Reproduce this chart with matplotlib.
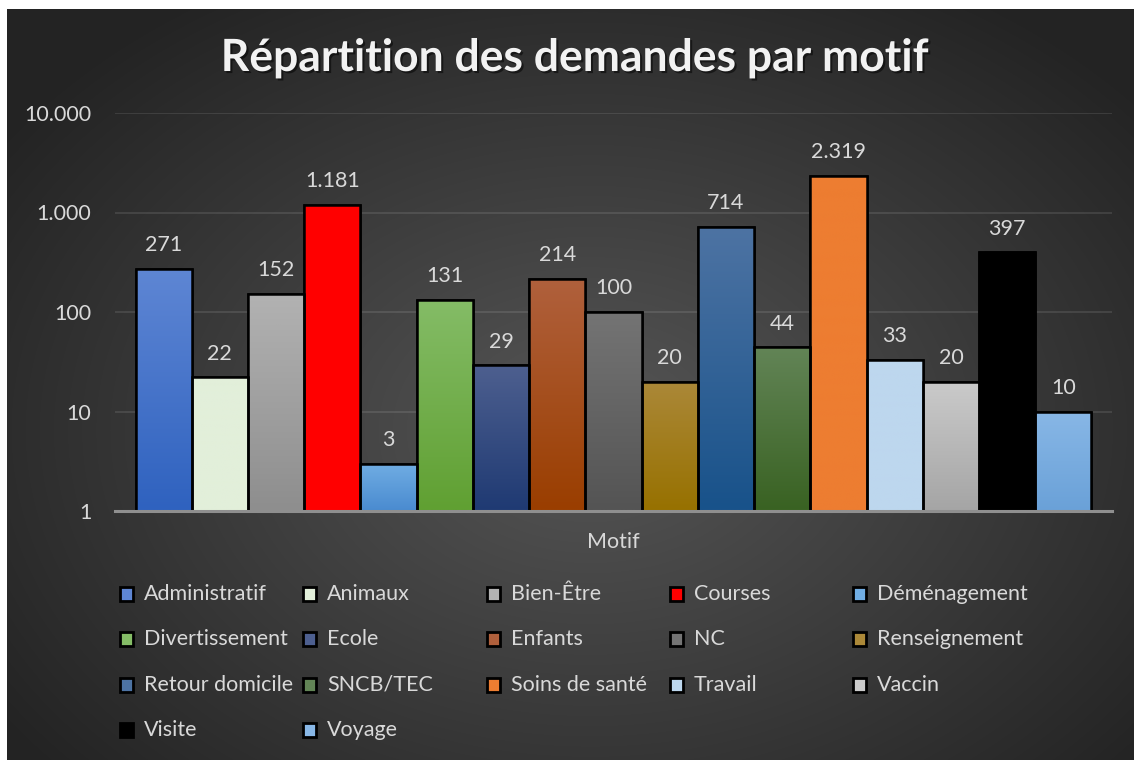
import matplotlib
matplotlib.use("Agg")
import matplotlib.pyplot as plt
import matplotlib.patheffects as pe
from matplotlib.colors import to_rgb
from matplotlib.patches import Rectangle
import numpy as np

# data
motifs = ["Administratif", "Animaux", "Bien-Être", "Courses", "Déménagement",
          "Divertissement", "Ecole", "Enfants", "NC", "Renseignement",
          "Retour domicile", "SNCB/TEC", "Soins de santé", "Travail", "Vaccin",
          "Visite", "Voyage"]
demandes = [271, 22, 152, 1181, 3, 131, 29, 214, 100, 20, 714, 44, 2319, 33, 20, 397, 10]
y_ticks = [1, 10, 100, 1000, 10000]

# gradient fills, top -> bottom
top_colors = ["#5e86d4", "#e2efda", "#b2b2b2", "#ff0000", "#70ade3",
              "#84bc66", "#4d5f8f", "#b0603c", "#747474", "#ab8838",
              "#4d73a3", "#628456", "#ed7d31", "#bdd7ee", "#cacaca",
              "#000000", "#88b7e6"]
bottom_colors = ["#2f62bf", "#e2efda", "#8e8e8e", "#ff0000", "#4a8bd0",
                 "#60a032", "#1f3a73", "#9a3e00", "#545454", "#977100",
                 "#18528a", "#396222", "#ed7d31", "#bdd7ee", "#a5a5a5",
                 "#000000", "#6aa1d8"]

TXT = "#d9d9d9"
FS = 15.5
plt.rcParams["font.family"] = ["Lato", "DejaVu Sans"]

W, H = 1134, 760
fig = plt.figure(figsize=(W / 100, H / 100), dpi=100, facecolor="white")


def px(x0, y0, x1, y1):
    """pixel box (top-left origin) -> figure fraction rect"""
    return [x0 / W, 1 - y1 / H, (x1 - x0) / W, (y1 - y0) / H]


# radial grey background of the chart area
bg = fig.add_axes(px(7, 9, W, H), zorder=-10)
gx, gy = np.meshgrid(np.arange(7, W), np.arange(9, H))
r = np.sqrt(((gx - 590) / 720.0) ** 2 + ((gy - 430) / 520.0) ** 2)
r = np.clip(r, 0, 1)
c_in, c_out = np.array(to_rgb("#565656")), np.array(to_rgb("#232323"))
img = c_in[None, None, :] * (1 - r[..., None]) + c_out[None, None, :] * r[..., None]
bg.imshow(img, aspect="auto", interpolation="bilinear")
bg.axis("off")

ax = fig.add_axes(px(115, 113, 1112, 511))
ax.patch.set_alpha(0)
ax.set_yscale("log")
ax.set_ylim(1, 10000)
n = len(demandes)
pad = 0.365
ax.set_xlim(-0.5 - pad, n - 0.5 + pad)

x = np.arange(n)
bars = ax.bar(x, demandes, width=1.0, color=bottom_colors, edgecolor="black",
              linewidth=1.8, zorder=3)

# per-bar vertical gradient, clipped to the bar
x0, x1 = ax.get_xlim()
for i, (b, v) in enumerate(zip(bars, demandes)):
    top = np.log10(v) / 4.0
    left = (i - 0.5 - x0) / (x1 - x0)
    right = (i + 0.5 - x0) / (x1 - x0)
    ct, cb = np.array(to_rgb(top_colors[i])), np.array(to_rgb(bottom_colors[i]))
    t = np.linspace(0, 1, 64)[:, None]
    grad = (ct * (1 - t) + cb * t)[:, None, :]
    im = ax.imshow(grad, extent=[left, right, 0, top], transform=ax.transAxes,
                   aspect="auto", zorder=3.5, interpolation="bilinear")
    im.set_clip_path(b)
    edge = Rectangle(b.get_xy(), b.get_width(), b.get_height(), fill=False,
                     edgecolor="black", linewidth=1.8, zorder=4)
    ax.add_patch(edge)
    ax.annotate(f"{v:,}".replace(",", "."), (i, v), xytext=(0, 10),
                textcoords="offset points", ha="center", va="bottom",
                color=TXT, fontsize=FS)

ax.set_yticks(y_ticks)
ax.set_yticklabels([f"{t:,}".replace(",", ".") for t in y_ticks])
ax.yaxis.set_minor_locator(matplotlib.ticker.NullLocator())
ax.tick_params(axis="y", length=0, pad=17, labelcolor=TXT, labelsize=FS)
ax.set_xticks([])
ax.grid(axis="y", color="white", alpha=0.1, linewidth=1.5, zorder=0)
for s in ["left", "right", "top"]:
    ax.spines[s].set_visible(False)
ax.spines["bottom"].set_color("#8f8f8f")
ax.spines["bottom"].set_linewidth(2.2)
ax.spines["bottom"].set_zorder(5)
ax.set_xlabel("Motif", color=TXT, fontsize=FS, labelpad=15)

fig.text(575 / W, 1 - 58 / H, "Répartition des demandes par motif",
         ha="center", va="center", color="#f2f2f2", fontsize=32,
         fontweight="bold",
         path_effects=[pe.withSimplePatchShadow(offset=(1.5, -1.5),
                                                shadow_rgbFace="black", alpha=0.5)])

# legend laid out like the original: 5 equal columns, filled row by row
for k, name in enumerate(motifs):
    row, col = divmod(k, 5)
    lx = 126 + col * 183.3
    ly = 594 + row * 45.3
    sq = Rectangle(((lx - 6) / W, 1 - (ly + 7) / H), 13 / W, 14 / H,
                   transform=fig.transFigure, facecolor=top_colors[k],
                   edgecolor="black", linewidth=2)
    fig.patches.append(sq)
    fig.text((lx + 18) / W, 1 - ly / H, name, ha="left", va="center",
             color=TXT, fontsize=FS)

fig.savefig("out.png", dpi=100, facecolor="white")
